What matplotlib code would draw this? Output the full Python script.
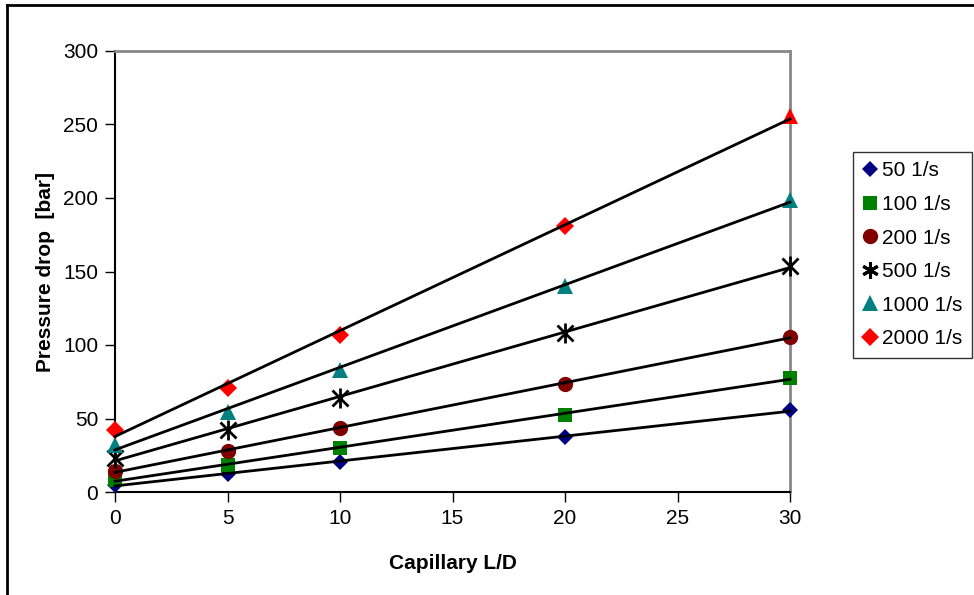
import numpy as np
import matplotlib.pyplot as plt
from matplotlib.lines import Line2D

plt.rcParams['font.family'] = ['Liberation Sans', 'DejaVu Sans']

# Capillary L/D values and measured pressure drops (bar) per shear rate
ld = [0, 5, 10, 20, 30]
p_50 = [4.8, 12.5, 20.5, 37.5, 55.5]
p_100 = [8.2, 18.4, 30.2, 52.6, 77.5]
p_200 = [14.5, 27.9, 43.5, 73.5, 105.7]
p_500 = [22.9, 42.2, 63.8, 108.5, 153.5]
p_1000 = [32.0, 54.6, 83.0, 140.0, 198.8]
p_2000 = [42.5, 70.8, 106.8, 181.0, 255.8]

labels = ['50 1/s', '100 1/s', '200 1/s', '500 1/s', '1000 1/s', '2000 1/s']
series = [p_50, p_100, p_200, p_500, p_1000, p_2000]
colors = ['#000080', '#008000', '#800000', 'black', '#008080', '#ff0000']
markers = ['D', 's', 'o', (6, 2, 0), '^', 'D']
sizes = [8, 10, 11, 12, 11, 9]

fig = plt.figure(figsize=(9.74, 5.95), dpi=100)
ax = fig.add_axes([115 / 974, 1 - 492 / 595, 675 / 974, 441 / 595])

xfit = np.array([0, 30])
handles = []
for y, lab, c, m, s in zip(series, labels, colors, markers, sizes):
    y = np.array(y)
    # last 2000 1/s point is shown with a triangle
    if lab == '2000 1/s':
        ax.plot(ld[:-1], y[:-1], linestyle='none', marker=m, color=c,
                markersize=s, markeredgewidth=0, zorder=3, clip_on=False)
        ax.plot(ld[-1:], y[-1:], linestyle='none', marker='^', color=c,
                markersize=11, markeredgewidth=0, zorder=3, clip_on=False)
    elif lab == '500 1/s':
        ax.plot(ld, y, linestyle='none', marker='x', color=c,
                markersize=12, markeredgewidth=2, zorder=3, clip_on=False)
        ax.plot(ld, y, linestyle='none', marker='|', color=c,
                markersize=14, markeredgewidth=2, zorder=3, clip_on=False)
    else:
        ax.plot(ld, y, linestyle='none', marker=m, color=c,
                markersize=s, markeredgewidth=0, zorder=3, clip_on=False)
    # linear trend line
    k, b = np.polyfit(ld, y, 1)
    ax.plot(xfit, k * xfit + b, color='black', linewidth=2, zorder=4,
            clip_on=False)
    if lab == '500 1/s':
        handles.append(Line2D([], [], linestyle='none', marker=(6, 2, 0),
                              color=c, markersize=12, markeredgewidth=2.2))
    else:
        handles.append(Line2D([], [], linestyle='none', marker=m, color=c,
                              markersize=s, markeredgewidth=0))

ax.set_xlim(0, 30)
ax.set_ylim(0, 300)
ax.set_xticks(range(0, 31, 5))
ax.set_yticks(range(0, 301, 50))
ax.tick_params(labelsize=15, length=7, width=1, direction='out', pad=5)
ax.spines['left'].set_linewidth(1.5)
ax.spines['bottom'].set_linewidth(1.5)
ax.spines['top'].set_color('#888888')
ax.spines['right'].set_color('#888888')
ax.spines['top'].set_linewidth(2)
ax.spines['right'].set_linewidth(2)

ax.set_xlabel('Capillary L/D', fontsize=15, fontweight='bold', labelpad=19)
ax.set_ylabel('Pressure drop  [bar]', fontsize=15, fontweight='bold',
              labelpad=6)

leg = fig.legend(handles, labels, loc='upper left',
                 bbox_to_anchor=(853 / 974, 1 - 152 / 595),
                 fontsize=15, frameon=True, fancybox=False,
                 edgecolor='black', handlelength=0.7, handletextpad=0.25,
                 labelspacing=0.7, borderpad=0.45, borderaxespad=0)
leg.get_frame().set_linewidth(1)

# outer chart frame
fig.add_artist(Line2D([7 / 974, 7 / 974], [0, 1 - 5 / 595], color='black',
                      linewidth=2, transform=fig.transFigure))
fig.add_artist(Line2D([7 / 974, 973 / 974], [1 - 5 / 595, 1 - 5 / 595],
                      color='black', linewidth=2, transform=fig.transFigure))

fig.savefig('out.png', dpi=100)
plt.close(fig)
